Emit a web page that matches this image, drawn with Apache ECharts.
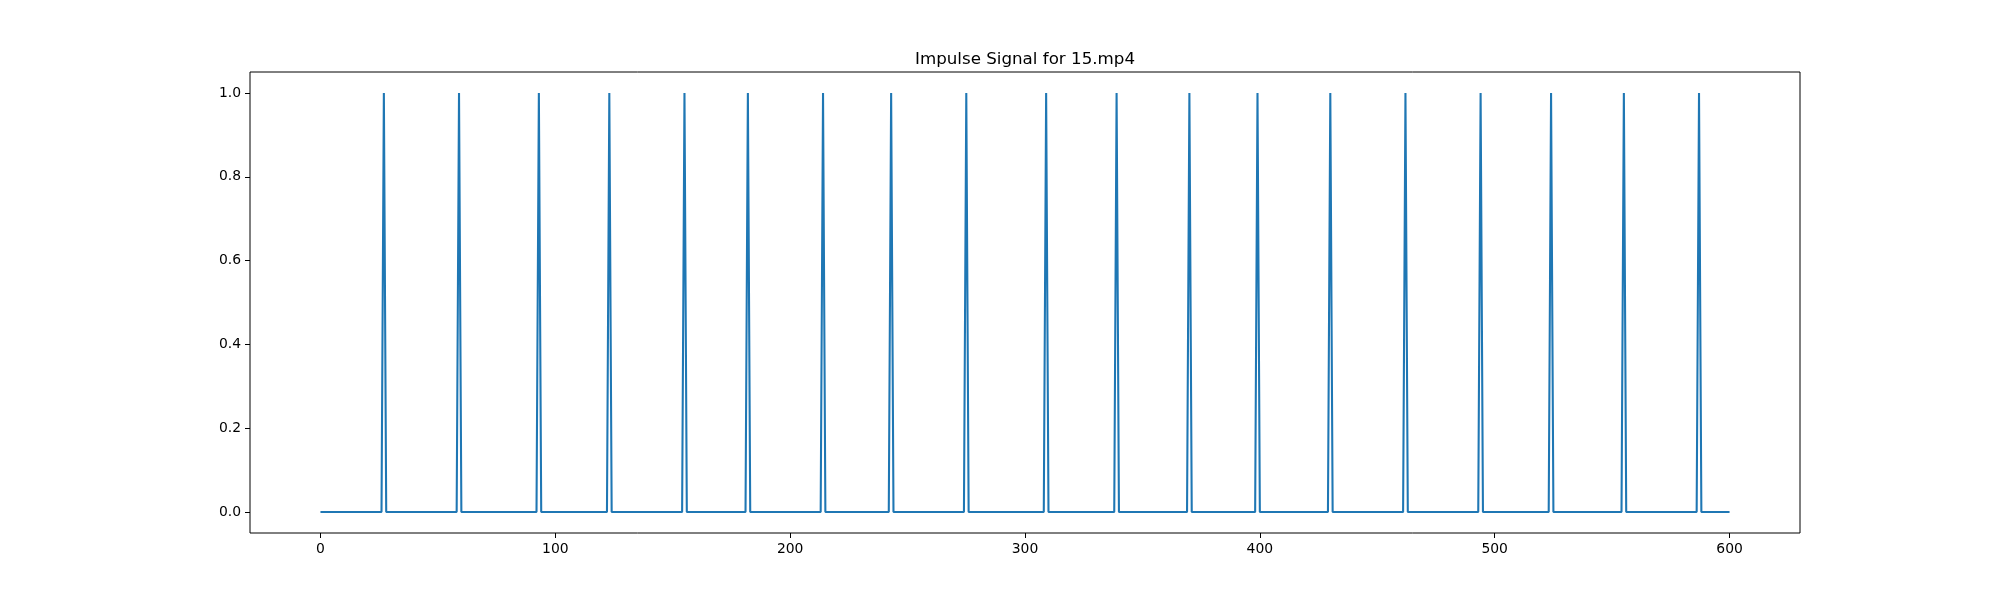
<!DOCTYPE html>
<html>
<head>
<meta charset="utf-8">
<script src="https://cdn.jsdelivr.net/npm/echarts@6/dist/echarts.min.js"></script>
<style>html,body{margin:0;padding:0;background:#fff}#c{width:2000px;height:600px}</style>
</head>
<body>
<div id="c"></div>
<script>
const titleText = "Impulse Signal for 15.mp4";
const sampleCount = 601; // frames 0..600
const peakFrames = [27, 59, 93, 123, 155, 182, 214, 243, 275, 309, 339, 370, 399, 430, 462, 494, 524, 555, 587];
const peakValue = 1;
const baseValue = 0;
const xTicks = [0, 100, 200, 300, 400, 500, 600];
const yTicks = [0, 0.2, 0.4, 0.6, 0.8, 1.0];

const peakSet = new Set(peakFrames);
const signal = [];
for (let i = 0; i < sampleCount; i++) {
  signal.push([i, peakSet.has(i) ? peakValue : baseValue]);
}

const font = "DejaVu Sans";
const chart = echarts.init(document.getElementById('c'), null, {renderer: 'canvas'});
chart.setOption({
  animation: false,
  backgroundColor: '#ffffff',
  title: {
    text: titleText,
    left: 1020, top: 46, textAlign: 'center',
    textStyle: {fontFamily: font, fontSize: 16.7, fontWeight: 'normal', color: '#000'}
  },
  grid: {
    left: 250, right: 200, top: 72, bottom: 67,
    show: true, borderColor: '#000', borderWidth: 1, backgroundColor: 'transparent'
  },
  xAxis: {
    type: 'value', min: -30, max: 630,
    axisLine: {show: false, onZero: false},
    splitLine: {show: false},
    axisTick: {show: true, customValues: xTicks, length: 5, inside: false, lineStyle: {color: '#000', width: 1}},
    axisLabel: {customValues: xTicks, margin: 9, fontFamily: font, fontSize: 13.9, color: '#000'}
  },
  yAxis: {
    type: 'value', min: -0.05, max: 1.05,
    axisLine: {show: false, onZero: false},
    splitLine: {show: false},
    axisTick: {show: true, customValues: yTicks, length: 5, inside: false, lineStyle: {color: '#000', width: 1}},
    axisLabel: {customValues: yTicks, margin: 9, fontFamily: font, fontSize: 13.9, color: '#000',
      formatter: v => v.toFixed(1)}
  },
  series: [{
    type: 'line',
    data: signal,
    showSymbol: false,
    symbol: 'none',
    lineStyle: {color: '#1f77b4', width: 2.08},
    clip: true
  }]
});
</script>
</body>
</html>
